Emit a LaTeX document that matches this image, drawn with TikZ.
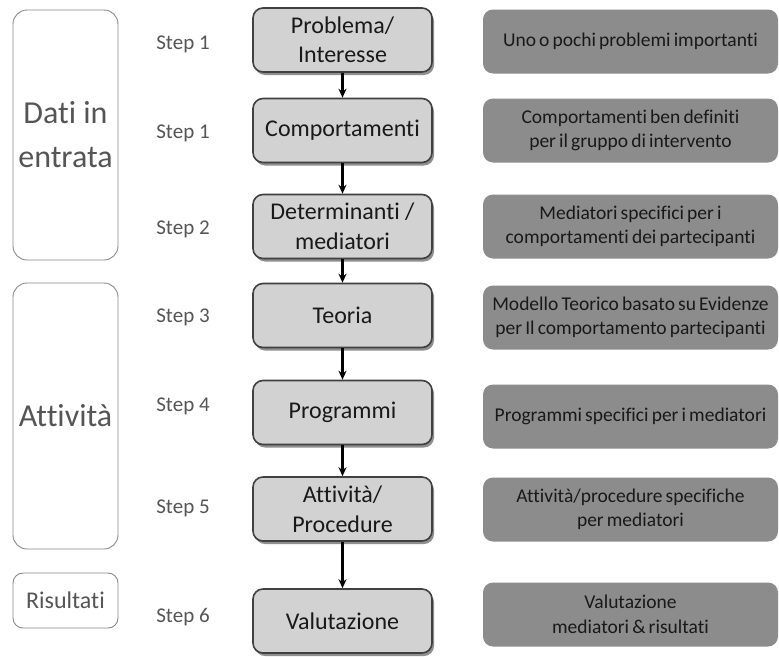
\documentclass[tikz,border=0pt]{standalone}
\usepackage{fontspec}
\setmainfont[Ligatures=NoCommon]{Carlito}
\usetikzlibrary{shadows,arrows.meta}
\definecolor{midfill}{HTML}{D2D2D2}
\definecolor{sidefill}{HTML}{8C8C8C}
\definecolor{framegray}{HTML}{8A8A8A}
\definecolor{labelgray}{HTML}{555555}
\newcommand\notefont{\fontsize{19.5}{24.5}\selectfont\spaceskip=0.16em plus 0.05em\relax}
\tikzset{
  phase/.style={draw=framegray, line width=0.9pt, rounded corners=14pt, fill=white,
    text=labelgray, align=center, font=\fontsize{32}{44}\selectfont},
  steplabel/.style={text=labelgray, font=\fontsize{21}{24}\selectfont},
  stepbox/.style={draw=black!75, line width=1.6pt, rounded corners=10pt, fill=midfill,
    minimum width=179pt, minimum height=64pt, align=center, inner sep=0pt,
    font=\fontsize{24}{29.5}\selectfont, text=black!90,
    drop shadow={shadow xshift=2pt, shadow yshift=-3pt, fill=black!55, opacity=0.8}},
  notebox/.style={rounded corners=10pt, fill=sidefill, minimum width=295pt,
    minimum height=64pt, align=center, inner sep=0pt,
    font=\notefont, text=black!90},
  flow/.style={-{Stealth[length=9pt,width=8pt]}, line width=2.2pt, black},
}
\begin{document}
\begin{tikzpicture}[x=1pt, y=-1pt]
\useasboundingbox[fill=white] (0,0) rectangle (779,656);

% phase frames on the left
\node[phase, minimum width=105pt, minimum height=250pt] (dati) at (65.5,135) {Dati in\\entrata};
\node[phase, minimum width=105pt, minimum height=266pt] (attiv) at (65.5,416) {Attività};
\node[phase, minimum width=105pt, minimum height=55pt, rounded corners=10pt,
      font=\fontsize{24}{28}\selectfont] (ris) at (65.5,600.5) {Risultati};

% step labels
\node[steplabel] (s1a) at (183,44) {Step 1};
\node[steplabel] (s1b) at (183,133) {Step 1};
\node[steplabel] (s2) at (183,229) {Step 2};
\node[steplabel] (s3) at (183,317) {Step 3};
\node[steplabel] (s4) at (183,406) {Step 4};
\node[steplabel] (s5) at (183,508) {Step 5};
\node[steplabel] (s6) at (183,617) {Step 6};

% main steps
\node[stepbox] (b1) at (342.5,40) {Problema/\\Interesse};
\node[stepbox] (b2) at (342.5,130.5) {Comportamenti};
\node[stepbox] (b3) at (342.5,226.5) {Determinanti /\\mediatori};
\node[stepbox] (b4) at (342.5,315.5) {Teoria};
\node[stepbox] (b5) at (342.5,412.5) {Programmi};
\node[stepbox] (b6) at (342.5,509) {Attività/\\Procedure};
\node[stepbox] (b7) at (342.5,621) {Valutazione};

\draw[flow] (b1) -- (b2);
\draw[flow] (b2) -- (b3);
\draw[flow] (b3) -- (b4);
\draw[flow] (b4) -- (b5);
\draw[flow] (b5) -- (b6);
\draw[flow] (b6) -- (b7);

% descriptions on the right
\node[notebox] (n1) at (630.5,41.5) {Uno o pochi problemi importanti};
\node[notebox] (n2) at (630.5,130.5) {Comportamenti ben definiti\\per il gruppo di intervento};
\node[notebox] (n3) at (630.5,226.5) {Mediatori specifici per i\\comportamenti dei partecipanti};
\node[notebox] (n4) at (630.5,317.5) {Modello Teorico basato su Evidenze\\per Il comportamento partecipanti};
\node[notebox] (n5) at (630.5,416.5) {Programmi specifici per i mediatori};
\node[notebox] (n6) at (630.5,509.5) {Attività/procedure specifiche\\per mediatori};
\node[notebox] (n7) at (630.5,614.5) {Valutazione\\mediatori \& risultati};
\end{tikzpicture}
\end{document}
